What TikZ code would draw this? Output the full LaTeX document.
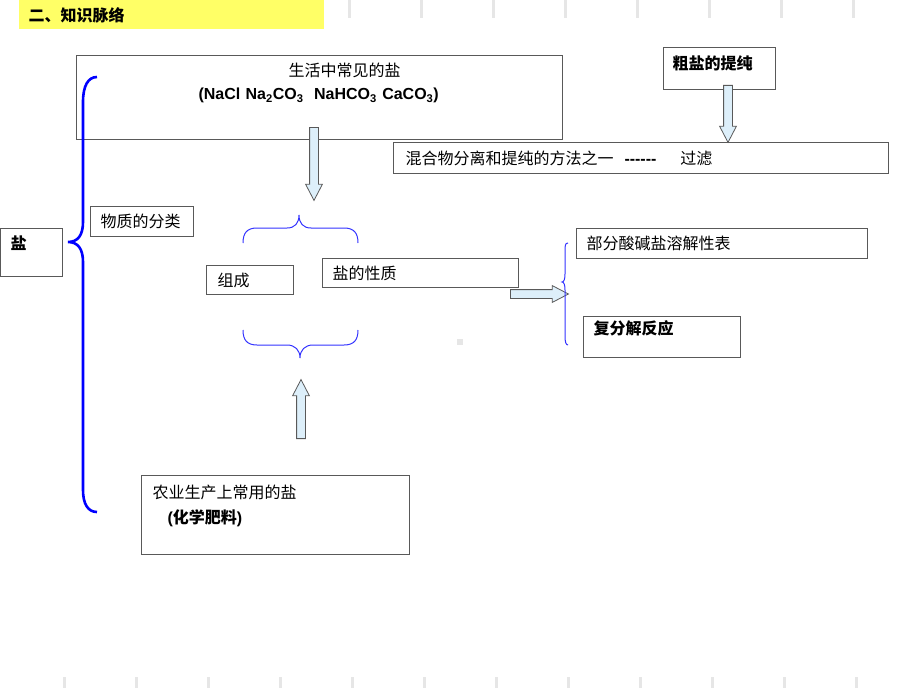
\documentclass[tikz,border=0pt]{standalone}
\usepackage{fontspec}
\setmainfont{Liberation Sans}
\newfontfamily\cjk{Noto Sans CJK SC}
\usetikzlibrary{shapes.arrows}
\definecolor{bandyellow}{HTML}{FFFF66}
\definecolor{arrowfill}{HTML}{DDEFFA}
\definecolor{framegray}{HTML}{595959}
\definecolor{tickgray}{HTML}{E6E6E6}

\begin{document}
\begin{tikzpicture}[x=1pt,y=-1pt,
    box/.style={draw=framegray, line width=1pt, anchor=north west, inner ysep=0pt, inner xsep=10pt, align=left, font=\cjk\fontsize{16}{20}\selectfont},
    fat/.style={single arrow, draw=framegray, fill=arrowfill, line width=0.8pt, inner sep=4pt, minimum width=16pt, single arrow head extend=4pt, single arrow tip angle=55, anchor=tail},
    bigbrace/.style={draw=blue, line width=2.6pt},
    smallbrace/.style={draw=blue!80, line width=1pt}]

    \useasboundingbox (0,0) rectangle (920,690);

    \foreach \x in {349,421,...,853} \fill[tickgray] (\x-1.5,0) rectangle (\x+1.5,18);
    \foreach \x in {64,136,...,856} \fill[tickgray] (\x-1.5,677) rectangle (\x+1.5,688);
    \fill[tickgray] (457,339) rectangle (463,345);

    \node[box, draw=none, fill=bandyellow, minimum width=305, minimum height=29, text width=285] (ZhMa) at (18,0) {\bfseries 二、知识脉络};

    \node[box, minimum width=486, minimum height=84, inner xsep=0pt, text width=486, text height=21, text depth=63, font=\cjk\fontsize{16}{23}\selectfont] (ShCh) at (76,55)
        {\hspace*{212pt}生活中常见的盐\\\hspace*{122pt}{\rmfamily\bfseries (NaCl Na\textsubscript{2}CO\textsubscript{3}\ \ NaHCO\textsubscript{3} CaCO\textsubscript{3})}};
    \node[box, minimum width=112, minimum height=42, inner xsep=9pt, text width=94, text height=22, text depth=20] (CuYa) at (663,47) {\bfseries 粗盐的提纯};
    \node[box, minimum width=495, minimum height=31, inner xsep=12pt, text width=471] (HuHe) at (393,142)
        {混合物分离和提纯的方法之一\hspace{11pt}{\rmfamily\bfseries -{}-{}-{}-{}-{}-}\hspace{24pt}过滤};

    \node[box, minimum width=62, minimum height=48, text width=42, text height=21, text depth=27] (Ya) at (0,228) {\bfseries 盐};
    \node[box, minimum width=103, minimum height=30, text width=83] (WuFe) at (90,206) {物质的分类};
    \node[box, minimum width=87, minimum height=29, inner xsep=11pt, text width=65] (ZuCh) at (206,265) {组成};
    \node[box, minimum width=196, minimum height=29, text width=176] (YaXi) at (322,258) {盐的性质};
    \node[box, minimum width=291, minimum height=30, text width=271] (BuFe) at (576,228) {部分酸碱盐溶解性表};
    \node[box, minimum width=157, minimum height=41, text width=137, text height=18, text depth=23] (FuFe) at (583,316) {\bfseries 复分解反应};
    \node[box, minimum width=268, minimum height=79, inner xsep=11pt, text width=246, text height=23, text depth=56, font=\cjk\fontsize{16}{25}\selectfont] (NoYe) at (141,475)
        {农业生产上常用的盐\\\hspace*{15pt}\bfseries {\rmfamily (}化学肥料{\rmfamily )}};

    \node[fat, shape border rotate=270, minimum height=73] (ShChAr) at (314,127) {};
    \node[fat, shape border rotate=270, minimum height=57] (CuYaAr) at (728,85) {};
    \node[fat, minimum height=58] (YaXiAr) at (510,294) {};
    \node[fat, shape border rotate=90, minimum height=59] (NoYeAr) at (301,439) {};

    \draw[bigbrace] (97,77) .. controls (88,77) and (83,86) .. (83,102) -- (83,222) .. controls (83,235) and (78,242) .. (68,242) .. controls (78,242) and (83,249) .. (83,262) -- (83,490) .. controls (83,504) and (88,512) .. (97,512);

    \draw[smallbrace] (243,243) .. controls (243,233) and (247,228) .. (257,228) -- (287,228) .. controls (295,228) and (299,223) .. (299,215) .. controls (299,223) and (303,228) .. (311,228) -- (344,228) .. controls (354,228) and (358,233) .. (358,243);
    \draw[smallbrace] (243,330) .. controls (243,340) and (247,345) .. (257,345) -- (287,345) .. controls (295,345) and (300,350) .. (300,358) .. controls (300,350) and (305,345) .. (313,345) -- (344,345) .. controls (354,345) and (358,340) .. (358,330);
    \draw[smallbrace] (568,243) .. controls (565,243) and (565,246) .. (565,252) -- (565,274) .. controls (565,279) and (564,282) .. (562,282) .. controls (564,282) and (565,285) .. (565,290) -- (565,336) .. controls (565,342) and (566,345) .. (568,345);

\end{tikzpicture}
\end{document}
